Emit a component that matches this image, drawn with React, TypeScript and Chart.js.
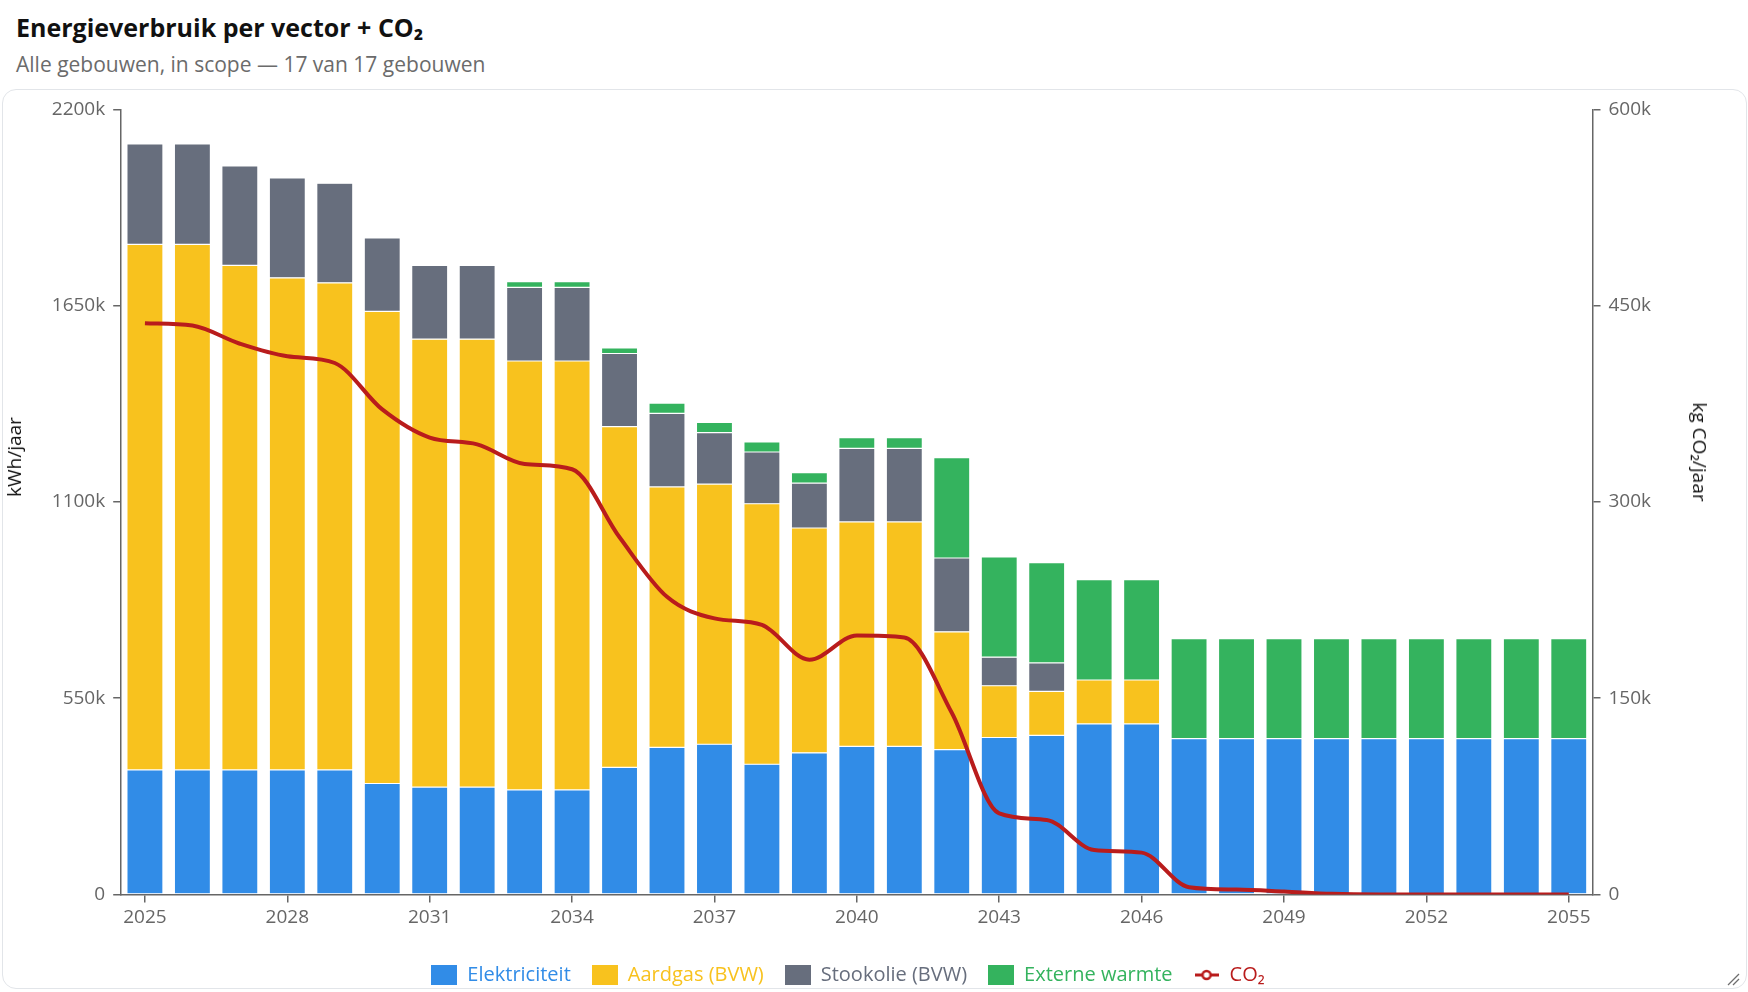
import { useEffect, useRef } from "react";
import { Chart, ChartConfiguration, registerables } from "chart.js";

Chart.register(...registerables);

const FONT = "'Open Sans', 'Noto Sans', sans-serif";

const years = [
  "2025", "2026", "2027", "2028", "2029", "2030", "2031", "2032", "2033", "2034",
  "2035", "2036", "2037", "2038", "2039", "2040", "2041", "2042", "2043", "2044",
  "2045", "2046", "2047", "2048", "2049", "2050", "2051", "2052", "2053", "2054", "2055",
];

// energy per vector, in thousands of kWh per year
const elektriciteit = [
  349, 349, 349, 349, 349, 311, 301, 301, 293, 293,
  356, 412, 421, 365, 397, 415, 415, 406, 440, 446,
  478, 478, 437, 437, 437, 437, 437, 437, 437, 437, 437,
];
const aardgas = [
  1473, 1473, 1414, 1379, 1365, 1323, 1255, 1255, 1202, 1202,
  955, 730, 729, 730, 630, 629, 629, 330, 145, 123,
  123, 123, 0, 0, 0, 0, 0, 0, 0, 0, 0,
];
const stookolie = [
  281, 281, 279, 280, 279, 206, 207, 207, 206, 206,
  205, 206, 144, 145, 126, 206, 206, 207, 80, 80,
  0, 0, 0, 0, 0, 0, 0, 0, 0, 0, 0,
];
const externeWarmte = [
  0, 0, 0, 0, 0, 0, 0, 0, 16, 16,
  16, 29, 29, 28, 29, 30, 30, 281, 281, 281,
  281, 281, 280, 280, 280, 280, 280, 280, 280, 280, 280,
];

// CO2, in thousands of kg per year
const co2 = [
  436.6, 434.8, 420.9, 411.3, 406.2, 370.7, 349.2, 344, 329, 325,
  273, 227.5, 211, 206, 179.4, 197.9, 196.4, 138.9, 62, 57,
  34, 32, 5.6, 3.8, 2.3, 0.5, 0, 0, 0, 0, 0,
];

const COLORS = {
  elektriciteit: "#318CE7",
  aardgas: "#F8C21E",
  stookolie: "#676E7D",
  externeWarmte: "#34B35E",
  co2: "#B91C1C",
};

const AXIS = "#666666";

function squareIcon(color: string) {
  const c = document.createElement("canvas");
  c.width = 26;
  c.height = 20;
  const ctx = c.getContext("2d")!;
  ctx.fillStyle = color;
  ctx.fillRect(0, 0, 26, 20);
  return c;
}

function lineIcon(color: string) {
  const c = document.createElement("canvas");
  c.width = 24;
  c.height = 14;
  const ctx = c.getContext("2d")!;
  ctx.strokeStyle = color;
  ctx.lineWidth = 3;
  ctx.beginPath();
  ctx.moveTo(0, 7);
  ctx.lineTo(24, 7);
  ctx.stroke();
  ctx.beginPath();
  ctx.arc(12, 7, 4, 0, Math.PI * 2);
  ctx.fillStyle = "#fff";
  ctx.fill();
  ctx.lineWidth = 2.5;
  ctx.stroke();
  return c;
}

const kLabel = (v: number | string) => (Number(v) === 0 ? "0" : `${v}k`);

function EnergyChart() {
  const canvasRef = useRef<HTMLCanvasElement>(null);
  const chartRef = useRef<Chart | null>(null);

  useEffect(() => {
    if (!canvasRef.current) return;
    const ctx = canvasRef.current.getContext("2d");
    if (!ctx) return;

    if (chartRef.current) {
      chartRef.current.destroy();
    }

    const barStyle = (color: string) => ({
      backgroundColor: color,
      borderColor: "rgba(255,255,255,0.25)",
      borderWidth: (c: any) => (c.raw ? 0.6 : 0),
      borderSkipped: false as const,
      barPercentage: 0.95,
      categoryPercentage: 0.8,
      yAxisID: "y",
      stack: "energy",
      order: 1,
    });

    const legendItems = [
      { text: "Elektriciteit", color: COLORS.elektriciteit, icon: squareIcon(COLORS.elektriciteit), ds: 0 },
      { text: "Aardgas (BVW)", color: COLORS.aardgas, icon: squareIcon(COLORS.aardgas), ds: 1 },
      { text: "Stookolie (BVW)", color: COLORS.stookolie, icon: squareIcon(COLORS.stookolie), ds: 2 },
      { text: "Externe warmte", color: COLORS.externeWarmte, icon: squareIcon(COLORS.externeWarmte), ds: 3 },
      { text: "CO₂", color: COLORS.co2, icon: lineIcon(COLORS.co2), ds: 4 },
    ];

    const gridOpts = {
      display: true,
      drawOnChartArea: false,
      drawTicks: true,
      tickLength: 8,
      color: AXIS,
      lineWidth: 1.5,
    };

    const config: ChartConfiguration = {
      type: "bar",
      data: {
        labels: years,
        datasets: [
          { label: "Elektriciteit", data: elektriciteit, ...barStyle(COLORS.elektriciteit) } as any,
          { label: "Aardgas (BVW)", data: aardgas, ...barStyle(COLORS.aardgas) } as any,
          { label: "Stookolie (BVW)", data: stookolie, ...barStyle(COLORS.stookolie) } as any,
          { label: "Externe warmte", data: externeWarmte, ...barStyle(COLORS.externeWarmte) } as any,
          {
            type: "line",
            label: "CO₂",
            data: co2,
            yAxisID: "y1",
            stack: "co2",
            order: 0,
            borderColor: COLORS.co2,
            backgroundColor: COLORS.co2,
            borderWidth: 4,
            pointRadius: 0,
            cubicInterpolationMode: "monotone",
            fill: false,
          } as any,
        ],
      },
      options: {
        responsive: true,
        maintainAspectRatio: false,
        animation: false,
        layout: { padding: { top: 4, left: 0, right: 52, bottom: 0 } },
        plugins: {
          tooltip: { enabled: false },
          legend: {
            position: "bottom",
            labels: {
              usePointStyle: true,
              pointStyleWidth: 26,
              boxHeight: 20,
              padding: 21,
              font: { family: FONT, size: 20 },
              generateLabels: () =>
                legendItems.map((it) => ({
                  text: it.text,
                  fontColor: it.color,
                  fillStyle: it.color,
                  strokeStyle: it.color,
                  lineWidth: 0,
                  pointStyle: it.icon as any,
                  rotation: 0,
                  hidden: false,
                  datasetIndex: it.ds,
                })),
            },
          },
        },
        scales: {
          x: {
            stacked: true,
            offset: true,
            grid: { ...gridOpts, offset: false },
            border: { display: true, color: AXIS, width: 1.5 },
            ticks: {
              autoSkip: false,
              maxRotation: 0,
              padding: 4,
              color: AXIS,
              font: { family: FONT, size: 19 },
              callback: (_v: any, i: number) => (i % 3 === 0 ? years[i] : null),
            },
            afterFit: (scale: any) => {
              scale.height = 49.5;
            },
          },
          y: {
            stacked: true,
            position: "left",
            min: 0,
            max: 2200,
            grid: gridOpts,
            border: { display: true, color: AXIS, width: 1.5 },
            ticks: {
              stepSize: 550,
              padding: 8,
              color: AXIS,
              font: { family: FONT, size: 19 },
              callback: (v: any) => kLabel(v),
            },
            afterFit: (scale: any) => {
              scale.width = 118.2;
            },
          },
          y1: {
            position: "right",
            min: 0,
            max: 600,
            grid: gridOpts,
            border: { display: true, color: AXIS, width: 1.5 },
            ticks: {
              stepSize: 150,
              padding: 8,
              color: AXIS,
              font: { family: FONT, size: 19 },
              callback: (v: any) => kLabel(v),
            },
            afterFit: (scale: any) => {
              scale.width = 100.5;
            },
          },
        },
      },
    };

    chartRef.current = new Chart(ctx, config);

    return () => {
      if (chartRef.current) {
        chartRef.current.destroy();
        chartRef.current = null;
      }
    };
  }, []);

  return (
    <div style={{ position: "absolute", left: 0, top: 0, width: 1742, height: 905 }}>
      <canvas ref={canvasRef} />
    </div>
  );
}

const axisTitle = {
  position: "absolute" as const,
  fontSize: 19,
  color: "#111",
  whiteSpace: "nowrap" as const,
  lineHeight: "24px",
};

export default function App() {
  document.body.style.margin = "0";
  return (
    <div style={{ position: "relative", width: 1748, height: 992, fontFamily: FONT, background: "#fff" }}>
      <div
        style={{
          position: "absolute",
          left: 16,
          top: 11,
          fontSize: 25,
          fontWeight: 700,
          lineHeight: "32px",
          color: "#111",
          whiteSpace: "nowrap",
        }}
      >
        Energieverbruik per vector + CO₂
      </div>
      <div
        style={{
          position: "absolute",
          left: 16,
          top: 49.5,
          fontSize: 21,
          lineHeight: "28px",
          color: "#6b6b6b",
          whiteSpace: "nowrap",
        }}
      >
        Alle gebouwen, in scope — 17 van 17 gebouwen
      </div>
      <div
        style={{
          position: "absolute",
          left: 2,
          top: 89,
          width: 1745,
          height: 900,
          boxSizing: "border-box",
          border: "1.5px solid #e2e5e9",
          borderRadius: 14,
          overflow: "hidden",
          background: "#fff",
        }}
      >
        <EnergyChart />
      </div>
      <div style={{ ...axisTitle, left: 14, top: 457, transform: "translate(-50%, -50%) rotate(-90deg)" }}>
        kWh/jaar
      </div>
      <div style={{ ...axisTitle, left: 1700, top: 452, transform: "translate(-50%, -50%) rotate(90deg)" }}>
        kg CO₂/jaar
      </div>
      {/* resize grip in the card corner */}
      <svg
        width={13}
        height={13}
        style={{ position: "absolute", left: 1727, top: 973 }}
        viewBox="0 0 13 13"
      >
        <line x1={1} y1={12} x2={12} y2={1} stroke="#6e6e6e" strokeWidth={1.2} />
        <line x1={6} y1={12} x2={12} y2={6} stroke="#6e6e6e" strokeWidth={1.2} />
      </svg>
    </div>
  );
}
